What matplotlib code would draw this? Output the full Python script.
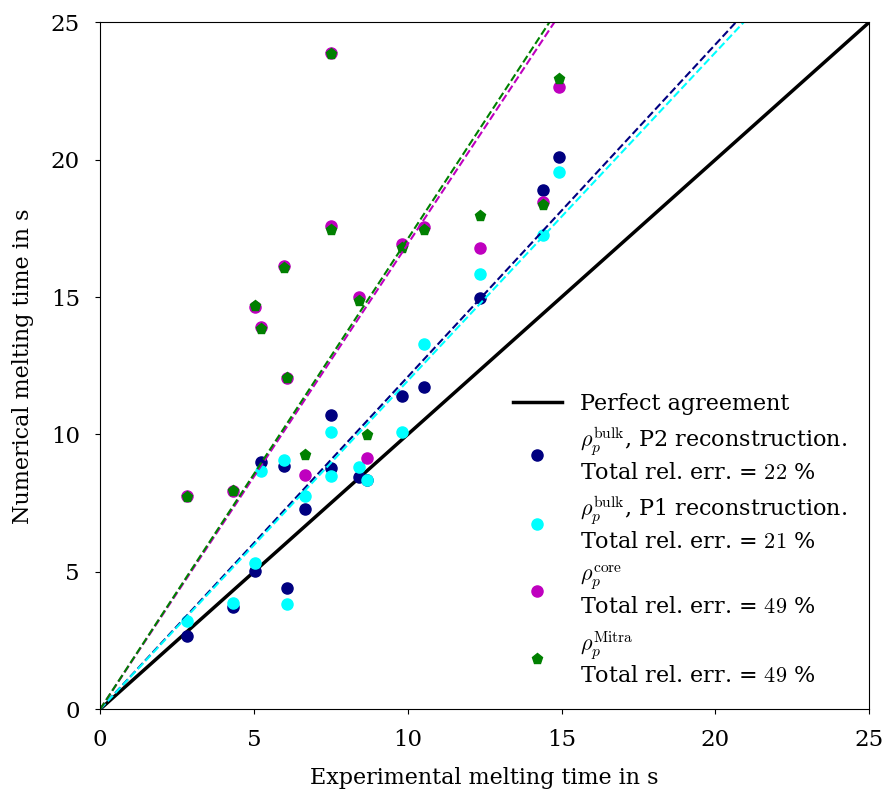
import numpy as np
import matplotlib
matplotlib.use('Agg')
from matplotlib import pyplot as plt

plt.rcParams['font.family'] = 'DejaVu Serif'
plt.rcParams['mathtext.fontset'] = 'cm'
plt.rcParams['font.size'] = 16

# Experimental melting times (s)
t_exp = [2.82, 4.33, 5.05, 5.23, 5.98, 6.08, 6.67, 7.51, 7.51, 8.42, 8.68, 9.81, 10.53, 12.35, 14.41, 14.91]

# Numerical melting times (s) for each density model
t_bulk_p2 = [2.68, 3.72, 5.03, 8.98, 8.85, 4.43, 7.27, 10.70, 8.78, 8.45, 8.33, 11.39, 11.72, 14.97, 18.91, 20.11]
t_bulk_p1 = [3.21, 3.87, 5.32, 8.67, 9.06, 3.82, 7.75, 10.08, 8.50, 8.82, 8.36, 10.08, 13.31, 15.85, 17.25, 19.55]
t_core = [7.75, 7.95, 14.65, 13.92, 16.12, 12.07, 8.54, 23.87, 17.60, 14.99, 9.15, 16.92, 17.54, 16.78, 18.46, 22.65]
t_mitra = [7.73, 7.95, 14.67, 13.85, 16.05, 12.05, 9.24, 23.85, 17.45, 14.85, 9.97, 16.80, 17.43, 17.95, 18.34, 22.95]

labels = [r'$\rho_p^\mathrm{bulk}$, P2 reconstruction.' + '\n' + r'Total rel. err. = $22$ %',
          r'$\rho_p^\mathrm{bulk}$, P1 reconstruction.' + '\n' + r'Total rel. err. = $21$ %',
          r'$\rho_p^\mathrm{core}$' + '\n' + r'Total rel. err. = $49$ %',
          r'$\rho_p^\mathrm{Mitra}$' + '\n' + r'Total rel. err. = $49$ %']
colors = ['navy', 'cyan', 'm', 'g']
markers = ['o', 'o', 'o', 'p']

fig = plt.figure(figsize=(8.86, 7.96), dpi=100)
ax = fig.add_axes([0.113, 0.109, 0.868, 0.863])

x = np.array(t_exp)
ax.plot([0, 25], [0, 25], color='black', linewidth=2.5, label='Perfect agreement')

series = [t_bulk_p2, t_bulk_p1, t_core, t_mitra]
for ys, c, m, lab in zip(series, colors, markers, labels):
    y = np.array(ys)
    ax.plot(x, y, linestyle='none', marker=m, color=c, markersize=8, label=lab)

# least squares fit through origin
for ys, c in zip(series, colors):
    y = np.array(ys)
    k = np.sum(x * y) / np.sum(x * x)
    ax.plot([0, 25], [0, 25 * k], '--', color=c, linewidth=1.5)

ax.set_xlim(0, 25)
ax.set_ylim(0, 25)
ax.set_xticks([0, 5, 10, 15, 20, 25])
ax.set_yticks([0, 5, 10, 15, 20, 25])
ax.tick_params(axis='both', pad=11, labelsize=16.5)
ax.set_xlabel('Experimental melting time in s', labelpad=11)
ax.set_ylabel('Numerical melting time in s', labelpad=12)

ax.legend(loc='lower right', frameon=False, fontsize=16, handlelength=2.2,
          labelspacing=0.5, borderaxespad=0.6)

fig.savefig('out.png', dpi=100)
